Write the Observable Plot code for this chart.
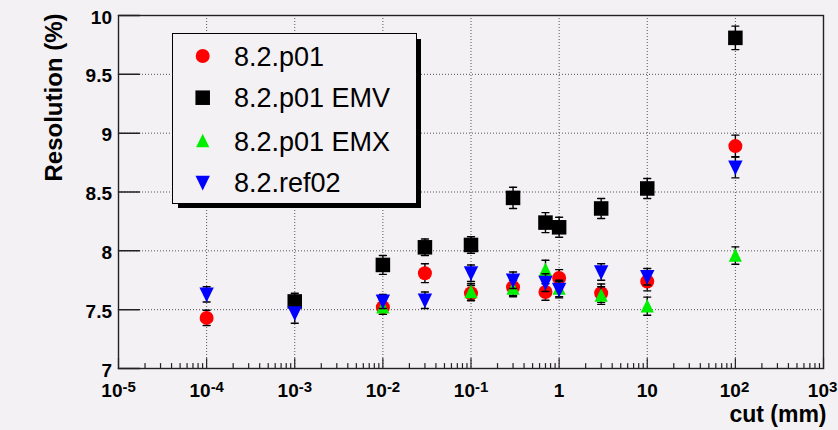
<!DOCTYPE html>
<html><head><meta charset="utf-8">
<script src="https://cdn.jsdelivr.net/npm/d3@7"></script>
<script src="https://cdn.jsdelivr.net/npm/@observablehq/plot@0.6"></script>
<style>
html,body{margin:0;padding:0;background:#f4f1f4;}
#wrap{position:relative;width:838px;height:430px;overflow:hidden;}
#legend{position:absolute;left:172px;top:33px;width:245px;height:171px;border:1.3px solid #000;box-sizing:border-box;background:#f4f1f4;box-shadow:5px 5px 0 -1px #000;}
#legend svg{position:absolute;left:0;top:0;}
</style></head><body><div id="wrap"><div id="plot"></div><div id="legend"></div></div>
<script>
// ---- data ----
const seriesNames = ["8.2.p01", "8.2.p01 EMV", "8.2.p01 EMX", "8.2.ref02"];

const cutP01 = [1e-4, 1e-2, 0.03, 0.1, 0.3, 0.7, 1, 3, 10, 100];
const resP01 = [7.43, 7.52, 7.81, 7.64, 7.69, 7.65, 7.77, 7.64, 7.74, 8.89];
const errP01 = [0.065, 0.06, 0.08, 0.065, 0.07, 0.07, 0.07, 0.078, 0.08, 0.093];

const cutEMV = [1e-3, 1e-2, 0.03, 0.1, 0.3, 0.7, 1, 3, 10, 100];
const resEMV = [7.57, 7.88, 8.03, 8.05, 8.45, 8.24, 8.20, 8.36, 8.53, 9.81];
const errEMV = [0.07, 0.08, 0.07, 0.07, 0.09, 0.085, 0.085, 0.085, 0.085, 0.1];

const cutEMX = [1e-2, 0.1, 0.3, 0.7, 1, 3, 10, 100];
const resEMX = [7.52, 7.65, 7.68, 7.84, 7.68, 7.62, 7.53, 7.96];
const errEMX = [0.06, 0.07, 0.07, 0.08, 0.07, 0.075, 0.077, 0.074];

const cutRef02 = [1e-4, 1e-3, 1e-2, 0.03, 0.1, 0.3, 0.7, 1, 3, 10, 100];
const resRef02 = [7.63, 7.47, 7.57, 7.58, 7.81, 7.75, 7.73, 7.67, 7.82, 7.78, 8.71];
const errRef02 = [0.065, 0.085, 0.06, 0.07, 0.07, 0.07, 0.075, 0.07, 0.07, 0.07, 0.09];

const xTickValues = [1e-5, 1e-4, 1e-3, 1e-2, 1e-1, 1, 10, 100, 1000];
const xTickBase = ["10", "10", "10", "10", "10", "1", "10", "10", "10"];
const xTickExp = ["-5", "-4", "-3", "-2", "-1", "", "", "2", "3"];
const xMinorMult = [2, 3, 4, 5, 6, 7, 8, 9];
const yTickValues = [7, 7.5, 8, 8.5, 9, 9.5, 10];
const yTickLabels = ["7", "7.5", "8", "8.5", "9", "9.5", "10"];
const xTitle = "cut (mm)";
const yTitle = "Resolution (%)";

// ---- shapes ----
const triUp = {draw(c, size){ const r = Math.sqrt(size/Math.PI); c.moveTo(0,-1.1*r); c.lineTo(r,0.95*r); c.lineTo(-r,0.95*r); c.closePath(); }};
const triDown = {draw(c, size){ const r = Math.sqrt(size/Math.PI); c.moveTo(0,1.1*r); c.lineTo(r,-0.95*r); c.lineTo(-r,-0.95*r); c.closePath(); }};
const lineShape = {draw(c, l){ c.moveTo(0,0); c.lineTo(0,-l); }};

const series = [
  {name: seriesNames[0], x: cutP01, y: resP01, e: errP01, color: "#ff0000", symbol: "circle", r: 7},
  {name: seriesNames[1], x: cutEMV, y: resEMV, e: errEMV, color: "#000000", symbol: "square", r: 8.2},
  {name: seriesNames[2], x: cutEMX, y: resEMX, e: errEMX, color: "#00ee00", symbol: triUp, r: 6.6},
  {name: seriesNames[3], x: cutRef02, y: resRef02, e: errRef02, color: "#0000ff", symbol: triDown, r: 7.2}
];

const xMinor = xTickValues.slice(0, -1).flatMap(d => xMinorMult.map(m => d*m));
const xTicks = xTickValues.map((v, i) => ({v, base: xTickBase[i], exp: xTickExp[i]}));
const gridColor = "#555";

const seriesMarks = series.flatMap(s => {
  const rows = s.x.map((x, i) => ({x, y: s.y[i], e: s.e[i]}));
  return [
    Plot.ruleX(rows, {x: "x", y1: d => d.y - d.e, y2: d => d.y + d.e, stroke: "#000", strokeWidth: 1.4}),
    Plot.vector(rows, {x: "x", y: d => d.y + d.e, length: 7, rotate: 90, anchor: "middle", shape: lineShape, stroke: "#000", strokeWidth: 1.4}),
    Plot.vector(rows, {x: "x", y: d => d.y - d.e, length: 7, rotate: 90, anchor: "middle", shape: lineShape, stroke: "#000", strokeWidth: 1.4}),
    Plot.dot(rows, {x: "x", y: "y", symbol: s.symbol, r: s.r, fill: s.color, stroke: "none"})
  ];
});

const chart = Plot.plot({
  width: 838, height: 430,
  marginLeft: 118, marginRight: 15, marginTop: 15, marginBottom: 62,
  x: {type: "log", domain: [1e-5, 1e3], axis: null},
  y: {domain: [7, 10]},
  style: {background: "#f4f1f4", fontFamily: "'Liberation Sans', Arial, sans-serif", color: "#000"},
  marks: [
    Plot.gridX(xTickValues.slice(1, -1), {stroke: gridColor, strokeOpacity: 1, strokeDasharray: "1,2"}),
    Plot.gridY(yTickValues.slice(1, -1), {stroke: gridColor, strokeOpacity: 1, strokeDasharray: "1,2"}),
    Plot.vector(yTickValues, {y: d => d, frameAnchor: "left", length: 21, rotate: 90, anchor: "start", shape: lineShape, stroke: "#222", strokeWidth: 1.5}),
    Plot.vector(xMinor, {x: d => d, frameAnchor: "bottom", length: 5, anchor: "start", shape: lineShape, stroke: "#222", strokeWidth: 1.2}),
    Plot.vector(xTickValues, {x: d => d, frameAnchor: "bottom", length: 10, anchor: "start", shape: lineShape, stroke: "#222", strokeWidth: 1.2}),
    Plot.axisY(yTickValues, {tickSize: 0, tickPadding: 6.5, fontSize: 19, fontWeight: "bold", label: null, dy: 2, tickFormat: (d) => yTickLabels[yTickValues.indexOf(d)]}),
    Plot.text(xTicks.filter(d => d.exp.startsWith("-")), {x: "v", frameAnchor: "bottom", text: "base", textAnchor: "end", lineAnchor: "bottom", dx: 4, dy: 28.4, fontSize: 19, fontWeight: "bold"}),
    Plot.text(xTicks.filter(d => d.exp && !d.exp.startsWith("-")), {x: "v", frameAnchor: "bottom", text: "base", textAnchor: "end", lineAnchor: "bottom", dx: 5.5, dy: 28.4, fontSize: 19, fontWeight: "bold"}),
    Plot.text(xTicks.filter(d => !d.exp), {x: "v", frameAnchor: "bottom", text: "base", textAnchor: "middle", lineAnchor: "bottom", dy: 28.4, fontSize: 19, fontWeight: "bold"}),
    Plot.text(xTicks.filter(d => d.exp.startsWith("-")), {x: "v", frameAnchor: "bottom", text: "exp", textAnchor: "start", lineAnchor: "bottom", dx: 4, dy: 23.7, fontSize: 15, fontWeight: "bold"}),
    Plot.text(xTicks.filter(d => d.exp && !d.exp.startsWith("-")), {x: "v", frameAnchor: "bottom", text: "exp", textAnchor: "start", lineAnchor: "bottom", dx: 5.5, dy: 23.7, fontSize: 15, fontWeight: "bold"}),
    Plot.text([xTitle], {frameAnchor: "bottom-right", text: d => d, textAnchor: "end", lineAnchor: "bottom", dx: 3, dy: 53.5, fontSize: 23, fontWeight: "bold"}),
    Plot.text([yTitle], {frameAnchor: "top-left", text: d => d, rotate: -90, textAnchor: "end", lineAnchor: "bottom", dx: -57, dy: -2, fontSize: 24, fontWeight: "bold"}),
    ...seriesMarks,
    Plot.frame({stroke: "#222", strokeWidth: 1.4})
  ]
});
document.getElementById("plot").appendChild(chart);

// ---- legend (overlay inside the frame) ----
const NS = "http://www.w3.org/2000/svg";
const lg = document.createElementNS(NS, "svg");
lg.setAttribute("width", 245); lg.setAttribute("height", 171);
const rowY = [22, 63.7, 107, 148.7];
series.forEach((s, i) => {
  const path = document.createElementNS(NS, "path");
  const sym = typeof s.symbol === "string" ? (s.symbol === "circle" ? d3.symbolCircle : d3.symbolSquare) : s.symbol;
  path.setAttribute("d", d3.symbol(sym, s.r * s.r * Math.PI)());
  path.setAttribute("transform", `translate(29.7,${rowY[i]})`);
  path.setAttribute("fill", s.color);
  lg.appendChild(path);
  const t = document.createElementNS(NS, "text");
  t.setAttribute("x", 61);
  t.setAttribute("y", rowY[i] + 9.6);
  t.setAttribute("font-family", "'Liberation Sans', Arial, sans-serif");
  t.setAttribute("font-size", 27);
  t.setAttribute("fill", "#000");
  t.textContent = s.name;
  lg.appendChild(t);
});
document.getElementById("legend").appendChild(lg);
</script>
</body></html>
